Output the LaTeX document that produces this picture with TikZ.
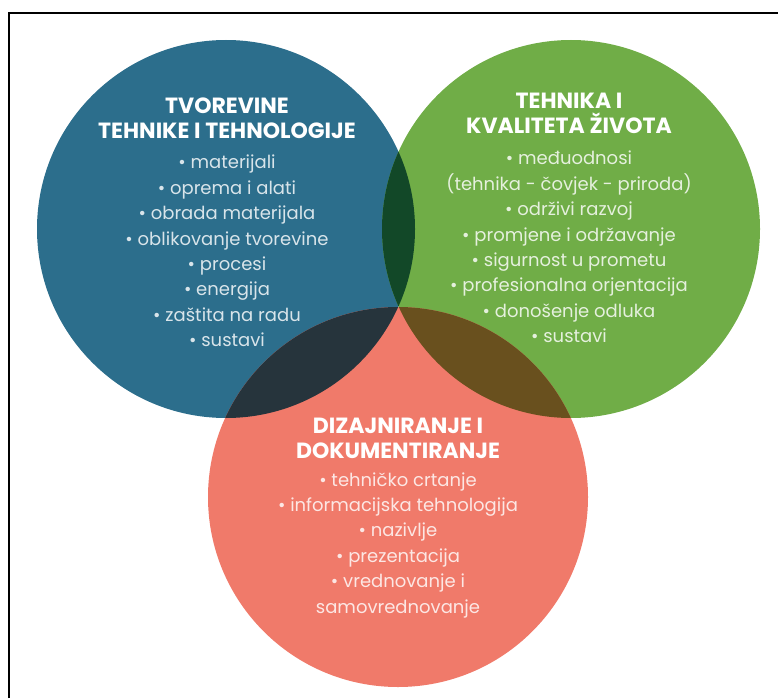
\documentclass[tikz,border=0pt]{standalone}
\usepackage{fontspec}
\setmainfont{Poppins}
\definecolor{tvplava}{RGB}{44,110,140}
\definecolor{tkzelena}{RGB}{112,173,71}
\definecolor{ddcrvena}{RGB}{240,122,106}
\definecolor{presjekpz}{RGB}{18,72,40}
\definecolor{presjekpc}{RGB}{38,52,60}
\definecolor{presjekzc}{RGB}{105,80,30}
\begin{document}
\begin{tikzpicture}[x=1pt,y=-1pt,
  naslov/.style={align=center,text=white,font=\bfseries\fontsize{22}{25}\selectfont},
  stavke/.style={align=center,text=white,text opacity=0.82,font=\fontsize{18}{25.4}\selectfont}]

\useasboundingbox (0,0) rectangle (778,698);

\fill[tvplava] (226,229) circle (189);
\fill[tkzelena] (571,229) circle (189);
\fill[ddcrvena] (398,497) circle (190);

\begin{scope}
\clip (226,229) circle (189);
\fill[presjekpz] (571,229) circle (189);
\fill[presjekpc] (398,497) circle (190);
\end{scope}

\begin{scope}
\clip (571,229) circle (189);
\fill[presjekzc] (398,497) circle (190);
\end{scope}

\draw[line width=2] (9,698) -- (9,13) -- (778,13);

\node[naslov] (tvNaslov) at (227,118) {TVOREVINE\\TEHNIKE I TEHNOLOGIJE};
\node[stavke] (tvStavke) at (227,251) {• materijali\\• oprema i alati\\• obrada materijala\\• oblikovanje tvorevine\\• procesi\\• energija\\• zaštita na radu\\• sustavi};

\node[naslov] (tkNaslov) at (569,113) {TEHNIKA I\\KVALITETA ŽIVOTA};
\node[stavke] (tkStavke) at (569,247) {• međuodnosi\\(tehnika - čovjek - priroda)\\• održivi razvoj\\• promjene i održavanje\\• sigurnost u prometu\\• profesionalna orjentacija\\• donošenje odluka\\• sustavi};

\node[naslov] (ddNaslov) at (398,438) {DIZAJNIRANJE I\\DOKUMENTIRANJE};
\node[stavke] (ddStavke) at (398,545) {• tehničko crtanje\\• informacijska tehnologija\\• nazivlje\\• prezentacija\\• vrednovanje i\\samovrednovanje};

\end{tikzpicture}
\end{document}
